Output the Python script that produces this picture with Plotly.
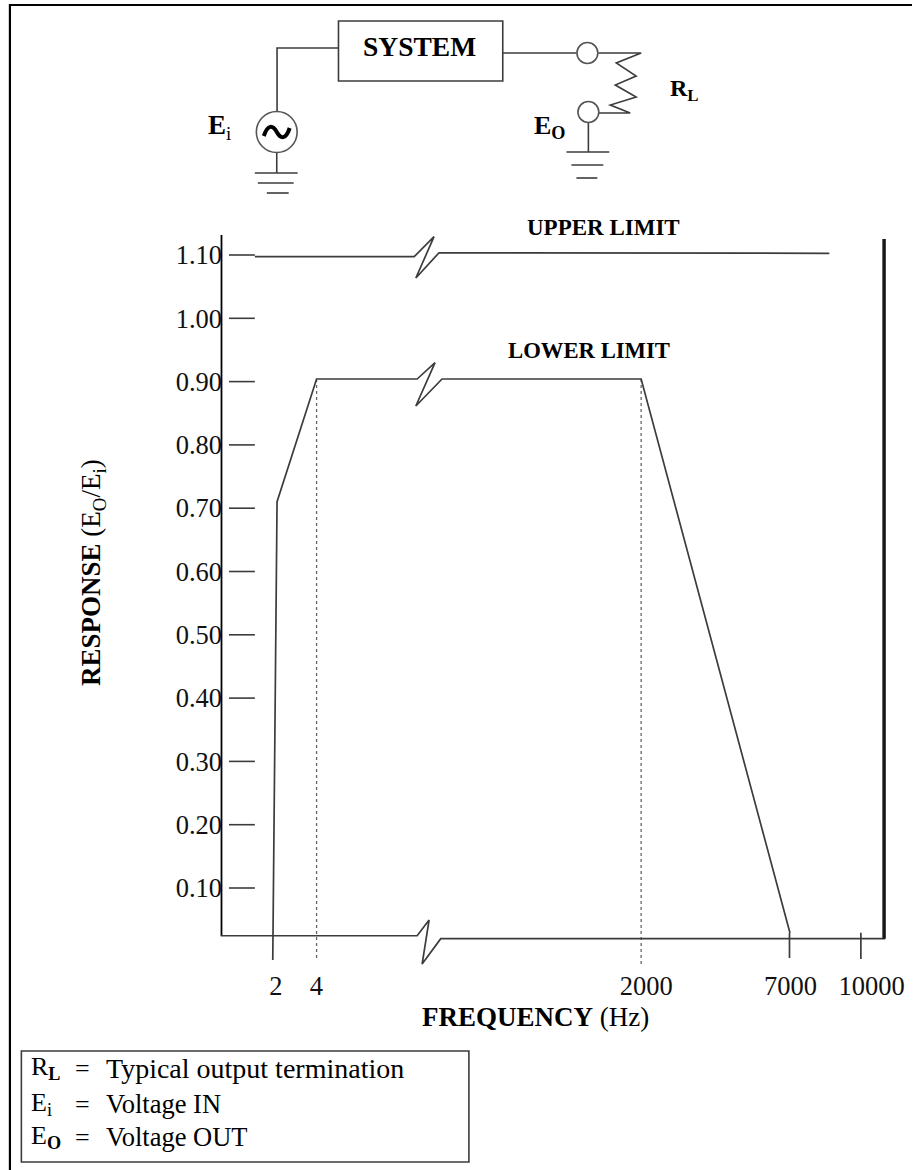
import plotly.graph_objects as go

WIDTH, HEIGHT = 915, 1170
LEFT, RIGHT, TOP, BOTTOM = 220, 905, 225, 967
SERIF = "Liberation Serif"
INK = "#3c3c3c"

# Response axis
y_ticks = [1.10, 1.00, 0.90, 0.80, 0.70, 0.60, 0.50, 0.40, 0.30, 0.20, 0.10]
y_labels = ["1.10", "1.00", "0.90", "0.80", "0.70", "0.60", "0.50", "0.40", "0.30", "0.20", "0.10"]

# Broken frequency axis: positions along the axis and the labels printed there
x_label_pos = [276, 316.7, 648, 793, 874.5]
x_labels = ["2", "4", "2000", "7000", "10000"]

# Curves (x = position on the broken axis, y = response)
upper_x = [255, 415, 435, 416.7, 440, 832]
upper_y = [1.0973, 1.0973, 1.1289, 1.0637, 1.1036, 1.1027]
lower_x = [273, 277.3, 317, 418, 436, 416.7, 443, 643, 792.5]
lower_y = [-0.0137, 0.7103, 0.9041, 0.9041, 0.9299, 0.8615, 0.9041, 0.9041, 0.0289]
base_x = [220.7, 418, 430, 423, 441.7, 888]
base_y = [0.0246, 0.0246, 0.0494, -0.0201, 0.0199, 0.0199]
axis_x = [221.5, 221.5]
axis_y = [1.1316, 0.0246]
limit_x = [887, 887]
limit_y = [1.1253, 0.0199]
dot4_x = [317, 317]
dot4_y = [0.9041, -0.0137]
dot2000_x = [643, 643]
dot2000_y = [0.9041, -0.0216]
tick7000_x = [792, 792]
tick7000_y = [0.0289, -0.0106]
tick10000_x = [863.7, 863.7]
tick10000_y = [0.0294, -0.0122]
ytick_x = [229, 255]


def px(x):
    return (x - LEFT) / (RIGHT - LEFT)


def py(y):
    return (BOTTOM - y) / (BOTTOM - TOP)


fig = go.Figure()


def line(x, y, color=INK, width=1.7, dash="solid"):
    fig.add_trace(go.Scatter(x=x, y=y, mode="lines", hoverinfo="skip", showlegend=False,
                             cliponaxis=False, line=dict(color=color, width=width, dash=dash)))


line(axis_x, axis_y, "#000000", 1.8)
for v in y_ticks:
    line(ytick_x, [v, v], INK, 1.6)
line(dot4_x, dot4_y, "#666666", 1.3, "dot")
line(dot2000_x, dot2000_y, "#666666", 1.3, "dot")
line(upper_x, upper_y)
line(lower_x, lower_y)
line(base_x, base_y)
line(tick7000_x, tick7000_y)
line(tick10000_x, tick10000_y)
line(limit_x, limit_y, "#1a1a1a", 3.5)

shapes = []


def seg(points, color=INK, width=1.6):
    path = "M " + " L ".join(f"{px(x):.5f} {py(y):.5f}" for x, y in points)
    shapes.append(dict(type="path", xref="paper", yref="paper", path=path,
                       line=dict(color=color, width=width)))


def circle(cx, cy, r, width=1.6, color="#555555"):
    shapes.append(dict(type="circle", xref="paper", yref="paper",
                       x0=px(cx - r), x1=px(cx + r), y0=py(cy + r), y1=py(cy - r),
                       line=dict(color=color, width=width), fillcolor="white"))


def rect(x0, y0, x1, y1, width=1.6):
    shapes.append(dict(type="rect", xref="paper", yref="paper",
                       x0=px(x0), x1=px(x1), y0=py(y1), y1=py(y0),
                       line=dict(color=INK, width=width)))


# outer frame
seg([(9, 1170), (9, 5), (915, 5)], "#000000", 2.2)
# system box and wiring
rect(339, 21, 504, 81)
seg([(339, 48), (277.3, 48), (277.3, 112)])
seg([(277, 152), (277, 173)])
seg([(255, 173), (298, 173)])
seg([(258, 183), (294, 183)])
seg([(267, 193), (289, 193)])
seg([(504, 53), (578, 53)])
seg([(600, 53), (643, 53), (618, 63), (638, 76), (617, 85), (638, 97), (612, 105), (632, 113), (600, 113)])
seg([(590, 123), (590, 152)])
seg([(568, 152), (611, 152)])
seg([(573, 165), (605, 165)])
seg([(578, 178), (599, 178)])
circle(277, 132, 20.5)
circle(589, 53, 10.5)
circle(590, 112, 10.5)
shapes.append(dict(type="path", xref="paper", yref="paper",
                   path=(f"M {px(264):.5f} {py(136):.5f} "
                         f"C {px(268):.5f} {py(124):.5f} {px(273):.5f} {py(125):.5f} {px(277):.5f} {py(132):.5f} "
                         f"C {px(281):.5f} {py(139):.5f} {px(286):.5f} {py(140):.5f} {px(290):.5f} {py(128):.5f}"),
                   line=dict(color="#000000", width=4)))
# key box
rect(20.5, 1051, 470, 1162)

annotations = []


def text(x, y, s, size=26, anchor="left", angle=0):
    annotations.append(dict(xref="paper", yref="paper", x=px(x), y=py(y), text=s, showarrow=False,
                            xanchor=anchor, yanchor="middle", textangle=angle,
                            font=dict(family=SERIF, size=size, color="#000000")))


text(420, 47, "<b>SYSTEM</b>", 27.5, "center")
text(206, 127, "<b>E</b><sub>i</sub>", 27)
text(533, 127, "<b>E<sub>O</sub></b>", 26)
text(670, 90, "<b>R<sub>L</sub></b>", 24)
text(605, 227, "<b>UPPER LIMIT</b>", 23, "center")
text(591, 350, "<b>LOWER LIMIT</b>", 22.7, "center")
text(92, 572.5, "<b>RESPONSE</b> (E<sub>O</sub>/E<sub>i</sub>)", 27, "center", -90)
text(537, 1017, "<b>FREQUENCY</b> (Hz)", 27, "center")
key_symbols = ["R<b><sub>L</sub></b>", "E<sub>i</sub>", "E<b><sub>O</sub></b>"]
key_texts = ["Typical output termination", "Voltage IN", "Voltage OUT"]
key_rows = [1068, 1104, 1137]
key_sizes = [28, 26.5, 26.5]
for sym, label, row, size in zip(key_symbols, key_texts, key_rows, key_sizes):
    text(28, row, sym, 26)
    text(72, row, "=", 26)
    text(103, row, label, size)

fig.update_layout(
    width=WIDTH, height=HEIGHT, autosize=False,
    margin=dict(l=LEFT, r=WIDTH - RIGHT, t=TOP, b=HEIGHT - BOTTOM),
    paper_bgcolor="white", plot_bgcolor="white", showlegend=False,
    hovermode=False, shapes=shapes, annotations=annotations,
    font=dict(family=SERIF, size=26, color="#111111"),
    xaxis=dict(range=[LEFT, RIGHT], tickmode="array", tickvals=x_label_pos, ticktext=x_labels,
               ticks="", showgrid=False, zeroline=False, showline=False,
               tickfont=dict(family=SERIF, size=26.5, color="#111111")),
    yaxis=dict(range=[-0.0248, 1.1474], tickmode="array", tickvals=y_ticks, ticktext=y_labels,
               ticks="", showgrid=False, zeroline=False, showline=False,
               tickfont=dict(family=SERIF, size=26.5, color="#111111"), ticklabelstandoff=-3),
)
fig.write_html("out.html", config=dict(displayModeBar=False),
               post_script="document.body.style.margin='0';document.documentElement.style.overflow='hidden';")
